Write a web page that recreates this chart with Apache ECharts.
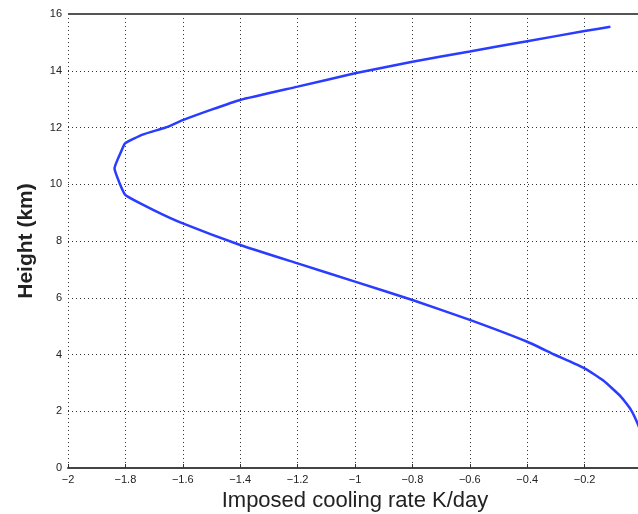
<!DOCTYPE html>
<html>
<head>
<meta charset="utf-8">
<script src="https://cdn.jsdelivr.net/npm/echarts@6/dist/echarts.min.js"></script>
<style>
    html, body { margin: 0; padding: 0; background: #fff; }
    #chart { width: 638px; height: 514px; }
</style>
</head>
<body>
<div id="chart"></div>
<script>
// 数据: 冷却率 (K/day) 与高度 (km), 从下到上
var coolingRate = [0.0, -0.011, -0.038, -0.073, -0.135, -0.2, -0.306, -0.4, -0.6, -0.8, -1.0, -1.2, -1.4, -1.6, -1.7, -1.8, -1.82, -1.838, -1.813, -1.8, -1.74, -1.66, -1.6, -1.5, -1.4, -1.2, -1.0, -0.8, -0.6, -0.4, -0.2, -0.11]
var height = [1.1, 1.46, 2.04, 2.51, 3.08, 3.51, 4.0, 4.45, 5.22, 5.92, 6.57, 7.21, 7.86, 8.62, 9.08, 9.62, 10.03, 10.56, 11.2, 11.45, 11.75, 12.0, 12.26, 12.63, 12.97, 13.44, 13.91, 14.32, 14.68, 15.04, 15.4, 15.55]
var xTicks = [-2, 0, 0.2]   // min, max, interval
var yTicks = [0, 16, 2]

var points = []
for (var i = 0; i < coolingRate.length; i++) {
    points.push([coolingRate[i], height[i]])
}

function minusLabel(v) {
    if (v === 0) return ''
    var s = String(Math.round(v * 10) / 10)
    return s.replace('-', '\u2212')
}

var myChart = echarts.init(document.getElementById('chart'))
var gridLine = { show: true, lineStyle: { color: '#333', type: [1, 3], width: 1 } }
var option = {
    animation: false,
    grid: { left: 68, top: 14, right: -4, bottom: 46, outerBoundsMode: 'none', containLabel: false },
    xAxis: {
        type: 'value',
        min: xTicks[0], max: xTicks[1], interval: xTicks[2],
        name: 'Imposed cooling rate K/day',
        nameLocation: 'middle',
        nameGap: 20,
        nameTextStyle: { fontFamily: 'Liberation Sans', fontSize: 22, color: '#222' },
        axisLine: { lineStyle: { color: '#444', width: 2 } },
        axisTick: { inside: true, length: 4, lineStyle: { color: '#333' } },
        axisLabel: { formatter: minusLabel, fontFamily: 'Liberation Sans', fontSize: 11, color: '#222', margin: 6 },
        splitLine: gridLine
    },
    yAxis: {
        type: 'value',
        min: yTicks[0], max: yTicks[1], interval: yTicks[2],
        name: 'Height (km)',
        nameLocation: 'middle',
        nameGap: 31,
        nameTextStyle: { fontFamily: 'Liberation Sans', fontSize: 21, fontWeight: 'bold', color: '#222' },
        axisLine: { show: true, lineStyle: { color: '#444', width: 2 } },
        axisTick: { show: true, inside: true, length: 4, lineStyle: { color: '#333' } },
        axisLabel: { fontFamily: 'Liberation Sans', fontSize: 11, color: '#222', margin: 6 },
        splitLine: gridLine
    },
    series: [{
        type: 'line',
        data: points,
        showSymbol: false,
        smooth: 0.15,
        clip: true,
        lineStyle: { color: '#2a3cff', width: 2.5 }
    }]
}
myChart.setOption(option)

// 上边框
myChart.setOption({
    graphic: [{
        type: 'line',
        shape: { x1: 68, y1: 14, x2: 638, y2: 14 },
        style: { stroke: '#555', lineWidth: 2 }
    }]
})
</script>
</body>
</html>
